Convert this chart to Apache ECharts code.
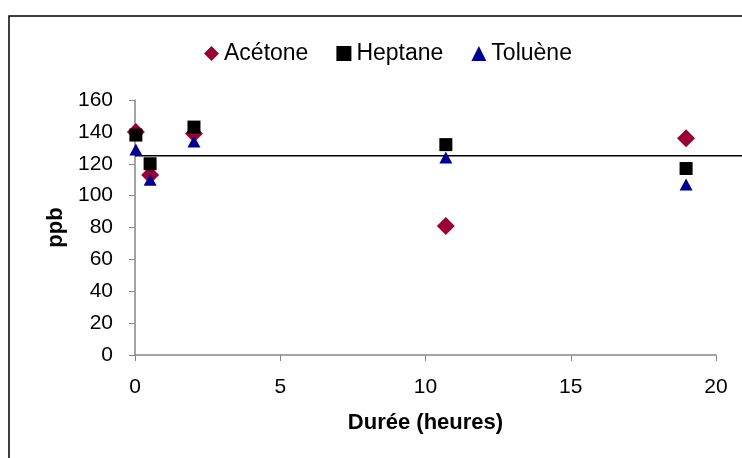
<!DOCTYPE html>
<html>
<head>
<meta charset="utf-8">
<script src="https://cdn.jsdelivr.net/npm/echarts@6/dist/echarts.min.js"></script>
<style>
  html, body { margin: 0; padding: 0; background: #fff; }
  #chart { width: 742px; height: 458px; }
</style>
</head>
<body>
<div id="chart"></div>
<script>
  // durations (hours) and measured concentrations (ppb)
  var hours = [0.03, 0.52, 2.03, 10.7, 18.97];
  var acetone = [140, 113, 139, 81, 136];
  var heptane = [138, 120, 143, 132, 117];
  var toluene = [129, 110, 134, 124, 107];
  var refLevel = 125;
  var xTicks = [0, 5, 10, 15, 20];
  var yTicks = [0, 20, 40, 60, 80, 100, 120, 140, 160];

  function pairs(vals) {
    return hours.map(function(h, i) { return [h, vals[i]]; });
  }

  var font = 'Liberation Sans, Arial, sans-serif';
  var axisGray = '#868686';

  var option = {
    animation: false,
    backgroundColor: '#fff',
    textStyle: { fontFamily: font },
    legend: {
      top: 37,
      left: 199,
      itemGap: 28,
      itemWidth: 15,
      itemHeight: 15,
      textStyle: { fontSize: 23, color: '#000', fontFamily: font },
      data: [
        { name: 'Acétone', icon: 'diamond' },
        { name: 'Heptane', icon: 'rect' },
        { name: 'Toluène', icon: 'triangle' }
      ]
    },
    grid: { left: 135, right: 26, top: 100, bottom: 103 },
    xAxis: {
      type: 'value',
      min: xTicks[0],
      max: xTicks[xTicks.length - 1],
      interval: 5,
      name: 'Durée (heures)',
      nameLocation: 'middle',
      nameGap: 57,
      nameTextStyle: { fontSize: 22, fontWeight: 'bold', color: '#000' },
      axisLine: { lineStyle: { color: axisGray, width: 1.5 } },
      axisTick: { show: true, length: 6, lineStyle: { color: axisGray } },
      axisLabel: { fontSize: 21, color: '#000', margin: 22 },
      splitLine: { show: false }
    },
    yAxis: {
      type: 'value',
      min: yTicks[0],
      max: yTicks[yTicks.length - 1],
      interval: 20,
      name: 'ppb',
      nameLocation: 'middle',
      nameGap: 67,
      nameRotate: 90,
      nameTextStyle: { fontSize: 22, fontWeight: 'bold', color: '#000' },
      axisLine: { show: true, lineStyle: { color: axisGray, width: 1.5 } },
      axisTick: { show: true, length: 6, lineStyle: { color: axisGray } },
      axisLabel: { fontSize: 21, color: '#000', margin: 22 },
      splitLine: { show: false }
    },
    series: [
      {
        name: 'Acétone',
        type: 'scatter',
        symbol: 'diamond',
        symbolSize: 18,
        itemStyle: { color: '#990033', opacity: 1 },
        data: pairs(acetone),
        z: 2
      },
      {
        name: 'Heptane',
        type: 'scatter',
        symbol: 'rect',
        symbolSize: 13,
        itemStyle: { color: '#000', opacity: 1 },
        data: pairs(heptane),
        z: 3
      },
      {
        name: 'Toluène',
        type: 'scatter',
        symbol: 'triangle',
        symbolSize: [13, 12],
        itemStyle: { color: '#000090', opacity: 1 },
        data: pairs(toluene),
        z: 4
      }
    ]
  };

  var chart = echarts.init(document.getElementById('chart'));
  chart.setOption(option);

  // reference level: runs from the y axis out to the right frame edge
  var p0 = chart.convertToPixel({ gridIndex: 0 }, [0, refLevel]);
  chart.setOption({
    graphic: [
      {
        type: 'rect',
        shape: { x: 9, y: 16, width: 740, height: 460 },
        style: { fill: 'none', stroke: '#000', lineWidth: 1.5 },
        silent: true
      },
      {
        type: 'line',
        shape: { x1: p0[0], y1: p0[1], x2: chart.getWidth(), y2: p0[1] },
        style: { stroke: '#000', lineWidth: 1.5 },
        z: 1,
        silent: true
      }
    ]
  });
</script>
</body>
</html>
